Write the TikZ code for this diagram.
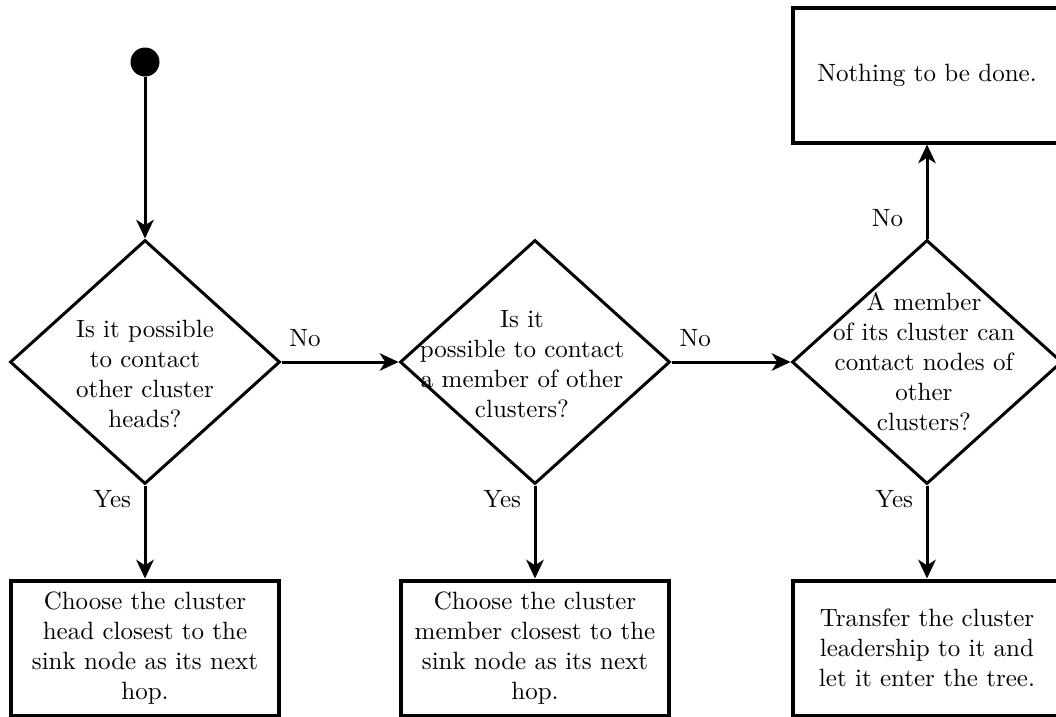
\documentclass[tikz,border=0pt]{standalone}
\usetikzlibrary{shapes.geometric,arrows.meta}
\begin{document}
\begin{tikzpicture}[x=0.4pt,y=-0.4pt,
  dia/.style={draw, diamond, line width=1.2pt, minimum width=108pt, minimum height=97.6pt, inner sep=0pt},
  box/.style={draw, rectangle, line width=1.6pt, minimum width=107.2pt, minimum height=54pt, inner sep=0pt, align=center},
  txt/.style={align=center, inner sep=0pt},
  lbl/.style={inner sep=0pt},
  startdot/.style={circle, fill=black, minimum size=11.6pt, inner sep=0pt},
  arr/.style={line width=1.2pt, -{Stealth[length=7.5pt, width=7pt, inset=2.2pt]}}]
\useasboundingbox (0,0) rectangle (1056,716);
\begin{scope}
\clip (0,0) rectangle (1056,716);
\node[startdot] (s) at (145,62) {};
\node[dia] (d1) at (145,362) {};
\node[dia] (d2) at (535,362) {};
\node[dia] (d3) at (927,362) {};
\node[txt] (t1) at (145,374) {Is it possible\\to contact\\other cluster\\heads?};
\node[txt] (t2) at (522,364) {Is it\\possible to contact\\a member of other\\clusters?};
\node[txt] (t3) at (924,362) {A member\\of its cluster can\\contact nodes of\\other\\clusters?};
\node[box] (b1) at (145,648) {Choose the cluster\\head closest to the\\sink node as its next\\hop.};
\node[box] (b2) at (535,648) {Choose the cluster\\member closest to the\\sink node as its next\\hop.};
\node[box] (b3) at (927,648) {Transfer the cluster\\leadership to it and\\let it enter the tree.};
\node[box] (b4) at (927,75) {Nothing to be done.};
\draw[arr] (s) -- (d1.north);
\draw[arr] (d1.east) -- node[lbl, pos=0.2, above=5.5pt] (n1) {No} (d2.west);
\draw[arr] (d2.east) -- node[lbl, pos=0.2, above=5.5pt] (n2) {No} (d3.west);
\draw[arr] (d3.north) -- node[lbl, pos=0.22, left=9pt] (n3) {No} (b4.south);
\draw[arr] (d1.south) -- node[lbl, pos=0.15, left=5pt] (y1) {Yes} (b1.north);
\draw[arr] (d2.south) -- node[lbl, pos=0.15, left=5pt] (y2) {Yes} (b2.north);
\draw[arr] (d3.south) -- node[lbl, pos=0.15, left=5pt] (y3) {Yes} (b3.north);
\end{scope}
\end{tikzpicture}
\end{document}
